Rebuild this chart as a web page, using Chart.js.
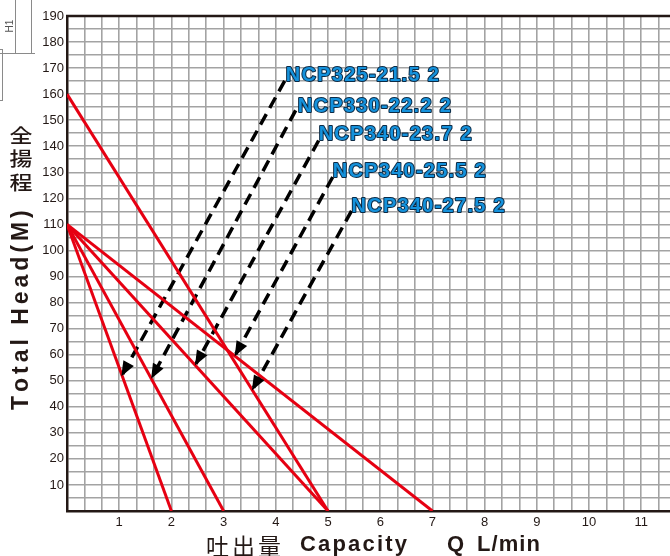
<!DOCTYPE html>
<html>
<head>
<meta charset="utf-8">
<script src="https://cdn.jsdelivr.net/npm/chart.js@4/dist/chart.umd.min.js"></script>
<style>
html,body{margin:0;padding:0;background:#fff;}
#wrap{width:670px;height:556px;position:relative;}
</style>
</head>
<body>
<div id="wrap"><canvas id="c" width="670" height="556"></canvas></div>
<script>
// ---- data ----
const modelNames = ['NCP325-21.5 2','NCP330-22.2 2','NCP340-23.7 2','NCP340-25.5 2','NCP340-27.5 2'];
const shutoffHead = [110, 110, 110, 160, 110];   // head at Q = 0 (m)
const maxCapacity = [2, 3, 5, 5, 7];             // Q at head = 0 (L/min)
const labelX = [4.19, 4.42, 4.82, 5.09, 5.45];
const labelY = [165.2, 153.3, 142.4, 128.1, 114.8];
const arrowFromX = [4.17, 4.38, 4.82, 5.09, 5.45];
const arrowFromY = [165.1, 153.8, 142.2, 128.2, 115.2];
const arrowToX = [1.06, 1.63, 2.47, 3.23, 3.56];
const arrowToY = [52.4, 51.4, 56.5, 60.1, 46.9];
const xTickLabels = [1,2,3,4,5,6,7,8,9,10,11];
const yTickLabels = [10,20,30,40,50,60,70,80,90,100,110,120,130,140,150,160,170,180,190];

const RED = '#e60012';
const INK = '#231815';

const datasets = [];
for (let i = 0; i < modelNames.length; i++) {
  datasets.push({
    label: modelNames[i],
    data: [{x: 0, y: shutoffHead[i]}, {x: maxCapacity[i], y: 0}],
    showLine: true, borderColor: RED, borderWidth: 3, pointRadius: 0, fill: false
  });
}
// arrow shafts (heads drawn by plugin)
for (let i = 0; i < modelNames.length; i++) {
  datasets.push({
    label: 'arrow' + i,
    data: [{x: arrowFromX[i], y: arrowFromY[i]}, {x: arrowToX[i], y: arrowToY[i]}],
    showLine: true, borderColor: '#000', borderWidth: 3.5, borderDash: [12, 7],
    pointRadius: 0, fill: false
  });
}

function fitText(ctx, text, x, y, width) {
  ctx.save();
  const w = ctx.measureText(text).width;
  const n = text.length;
  const ls = n > 1 ? (width - w) / (n - 1) : 0;
  let cx = x;
  for (const ch of text) {
    ctx.fillText(ch, cx, y);
    cx += ctx.measureText(ch).width + ls;
  }
  ctx.restore();
}

const decor = {
  id: 'decor',
  beforeDatasetsDraw(chart) {
    const {ctx, chartArea: a} = chart;
    ctx.save();
    ctx.strokeStyle = INK; ctx.lineWidth = 2.5;
    ctx.beginPath(); ctx.moveTo(a.left - 1, a.top); ctx.lineTo(a.right, a.top); ctx.stroke();
    ctx.restore();
  },
  afterDatasetsDraw(chart) {
    const {ctx} = chart;
    const xs = chart.scales.x, ys = chart.scales.y;
    // arrow heads
    ctx.save();
    ctx.fillStyle = '#000';
    for (let i = 0; i < arrowToX.length; i++) {
      const x1 = xs.getPixelForValue(arrowFromX[i]), y1 = ys.getPixelForValue(arrowFromY[i]);
      const x2 = xs.getPixelForValue(arrowToX[i]), y2 = ys.getPixelForValue(arrowToY[i]);
      const ang = Math.atan2(y2 - y1, x2 - x1);
      const L = 13, W = 6;
      ctx.beginPath();
      ctx.moveTo(x2 + 2 * Math.cos(ang), y2 + 2 * Math.sin(ang));
      ctx.lineTo(x2 - L * Math.cos(ang) + W * Math.sin(ang), y2 - L * Math.sin(ang) - W * Math.cos(ang));
      ctx.lineTo(x2 - L * Math.cos(ang) - W * Math.sin(ang), y2 - L * Math.sin(ang) + W * Math.cos(ang));
      ctx.closePath(); ctx.fill();
    }
    ctx.restore();
    // model labels
    ctx.save();
    ctx.font = 'bold 20px "Liberation Sans", Arial, sans-serif';
    ctx.textBaseline = 'alphabetic';
    ctx.textAlign = 'left';
    for (let i = 0; i < modelNames.length; i++) {
      const px = xs.getPixelForValue(labelX[i]), py = ys.getPixelForValue(labelY[i]);
      const txt = modelNames[i];
      const w = ctx.measureText(txt).width;
      const ls = (153 - w) / (txt.length - 1);
      let cx = px;
      for (const ch of txt) {
        ctx.lineWidth = 2; ctx.strokeStyle = '#0b2a45'; ctx.lineJoin = 'round';
        ctx.strokeText(ch, cx, py);
        ctx.fillStyle = '#1592dc';
        ctx.fillText(ch, cx, py);
        cx += ctx.measureText(ch).width + ls;
      }
    }
    ctx.restore();
  },
  afterDraw(chart) {
    const {ctx} = chart;
    ctx.save();
    ctx.fillStyle = INK;
    ctx.textBaseline = 'middle';
    ctx.textAlign = 'left';
    // x title
    ctx.font = '23px "Noto Sans CJK JP", sans-serif';
    fitText(ctx, '吐出量', 206, 546, 75);
    ctx.font = 'bold 22px "Liberation Sans", Arial, sans-serif';
    fitText(ctx, 'Capacity', 300, 545, 107);
    fitText(ctx, 'Q', 447, 545, 20);
    fitText(ctx, 'L/min', 477, 545, 63);
    // y title rotated
    ctx.save();
    ctx.translate(22, 410);
    ctx.rotate(-Math.PI / 2);
    ctx.font = 'bold 23px "Liberation Sans", Arial, sans-serif';
    fitText(ctx, 'Total Head(M)', 0, 0, 198);
    ctx.restore();
    // vertical Chinese (slightly squat glyphs)
    ctx.font = '500 23px "Noto Sans CJK JP", sans-serif';
    ctx.textAlign = 'center';
    const zh = ['全', '揚', '程'];
    const zy = [135, 158, 182];
    for (let i = 0; i < 3; i++) {
      ctx.save();
      ctx.translate(21, zy[i]);
      ctx.scale(1, 0.86);
      ctx.fillText(zh[i], 0, 0);
      ctx.restore();
    }
    ctx.restore();
    // drawing fragment in top-left corner
    ctx.save();
    ctx.strokeStyle = '#8a8a8a'; ctx.lineWidth = 1;
    ctx.beginPath();
    ctx.moveTo(15.5, 0); ctx.lineTo(15.5, 53);
    ctx.moveTo(31.5, 0); ctx.lineTo(31.5, 53);
    ctx.moveTo(0, 53.5); ctx.lineTo(35, 53.5);
    ctx.moveTo(0, 49.5); ctx.lineTo(3, 49.5);
    ctx.moveTo(2.5, 49.5); ctx.lineTo(2.5, 100);
    ctx.moveTo(0, 100.5); ctx.lineTo(3, 100.5);
    ctx.stroke();
    ctx.fillStyle = '#555';
    ctx.translate(10, 26); ctx.rotate(-Math.PI / 2);
    ctx.font = '10px "Liberation Sans", Arial, sans-serif';
    ctx.textAlign = 'center'; ctx.textBaseline = 'middle';
    ctx.fillText('H1', 0, 0);
    ctx.restore();
  }
};

new Chart(document.getElementById('c'), {
  type: 'scatter',
  data: {datasets},
  options: {
    responsive: false,
    animation: false,
    devicePixelRatio: 1,
    layout: {padding: {top: 16, right: 0, left: 0, bottom: 0}},
    plugins: {legend: {display: false}, tooltip: {enabled: false}},
    scales: {
      x: {
        type: 'linear', min: 0, max: 11.55,
        afterBuildTicks(scale) {
          const t = [];
          for (let i = 0; i <= 34; i++) t.push({value: i / 3});
          scale.ticks = t;
        },
        afterFit(scale) { scale.height = 45; },
        grid: {color: '#a3a3a3', lineWidth: 1.6, drawTicks: false},
        border: {display: true, color: INK, width: 2.5},
        ticks: {
          autoSkip: false, maxRotation: 0, padding: 4,
          color: INK, font: {family: '"Liberation Sans", Arial, sans-serif', size: 13},
          callback(v) {
            const r = Math.round(v);
            return (Math.abs(v - r) < 1e-6 && xTickLabels.includes(r)) ? String(r) : '';
          }
        }
      },
      y: {
        type: 'linear', min: 0, max: 190,
        afterBuildTicks(scale) {
          const t = [];
          for (let v = 0; v <= 190; v += 5) t.push({value: v});
          scale.ticks = t;
        },
        afterFit(scale) { scale.width = 67; },
        grid: {color: '#a3a3a3', lineWidth: 1.6, drawTicks: false},
        border: {display: true, color: INK, width: 2.5},
        ticks: {
          autoSkip: false, padding: 3,
          color: INK, font: {family: '"Liberation Sans", Arial, sans-serif', size: 13},
          callback(v) { return yTickLabels.includes(v) ? String(v) : ''; }
        }
      }
    }
  },
  plugins: [decor]
});
</script>
</body>
</html>
